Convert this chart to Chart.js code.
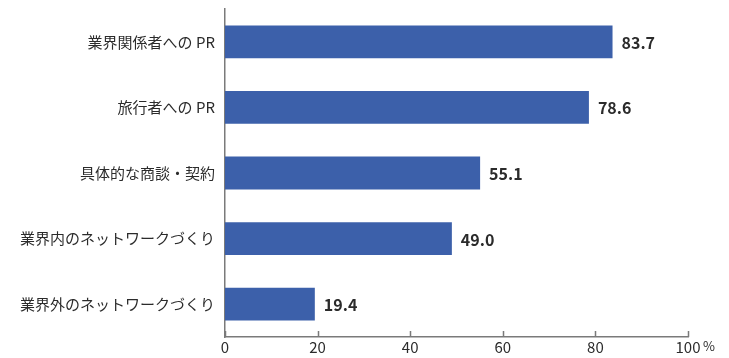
<!DOCTYPE html>
<html>
<head>
<meta charset="utf-8">
<script src="https://cdn.jsdelivr.net/npm/chart.js@4/dist/chart.umd.min.js"></script>
<style>
  html, body { margin: 0; padding: 0; background: #fff; }
  #wrap { width: 729px; height: 358px; }
</style>
</head>
<body>
<div id="wrap"><canvas id="chart-canvas" width="729" height="358"></canvas></div>
<script>
var categories = [
  '業界関係者への PR',
  '旅行者への PR',
  '具体的な商談・契約',
  '業界内のネットワークづくり',
  '業界外のネットワークづくり'
];
var values = [83.7, 78.6, 55.1, 49.0, 19.4];
var xTicks = [0, 20, 40, 60, 80, 100];

var barColor = '#3c60aa';
var textColor = '#2b2b2b';
var axisColor = '#7a7a7a';
var jpFont = '"Noto Sans CJK JP", "Noto Sans", sans-serif';

// Value labels at the end of each bar.
var valueLabels = {
  id: 'valueLabels',
  afterDatasetsDraw: function (chart) {
    var ctx = chart.ctx;
    var meta = chart.getDatasetMeta(0);
    ctx.save();
    ctx.font = 'bold 16px ' + jpFont;
    ctx.fillStyle = textColor;
    ctx.textBaseline = 'middle';
    ctx.textAlign = 'left';
    for (var i = 0; i < meta.data.length; i++) {
      var bar = meta.data[i];
      ctx.fillText(values[i].toFixed(1), bar.x + 9, bar.y + 1);
    }
    ctx.restore();
  }
};

// Short tick marks pointing up from the x axis, plus the unit after 100.
var xAxisMarks = {
  id: 'xAxisMarks',
  afterDraw: function (chart) {
    var ctx = chart.ctx;
    var x = chart.scales.x;
    var bottom = chart.chartArea.bottom;
    ctx.save();
    ctx.strokeStyle = axisColor;
    ctx.lineWidth = 1.5;
    ctx.beginPath();
    for (var i = 0; i < xTicks.length; i++) {
      var px = Math.round(x.getPixelForValue(xTicks[i])) + 0.5;
      ctx.moveTo(px, bottom - 6);
      ctx.lineTo(px, bottom);
    }
    ctx.stroke();
    ctx.font = '13px ' + jpFont;
    ctx.fillStyle = textColor;
    ctx.textBaseline = 'top';
    ctx.textAlign = 'left';
    ctx.fillText('%', x.getPixelForValue(100) + 15, bottom + 3);
    ctx.restore();
  }
};

new Chart(document.getElementById('chart-canvas'), {
  type: 'bar',
  data: {
    labels: categories,
    datasets: [{
      data: values,
      backgroundColor: barColor,
      borderWidth: 0,
      barPercentage: 0.5,
      categoryPercentage: 1.0
    }]
  },
  options: {
    indexAxis: 'y',
    responsive: false,
    animation: false,
    layout: { padding: { top: 9, right: 41, left: 0, bottom: 0 } },
    plugins: {
      legend: { display: false },
      tooltip: { enabled: false }
    },
    scales: {
      x: {
        min: 0,
        max: 100,
        afterBuildTicks: function (scale) {
          scale.ticks = xTicks.map(function (v) { return { value: v }; });
        },
        afterFit: function (scale) { scale.height = 21; },
        grid: { display: false, drawTicks: false },
        border: { display: true, color: axisColor, width: 1.5 },
        ticks: {
          padding: 1,
          color: textColor,
          font: { family: jpFont, size: 15 },
          maxRotation: 0
        }
      },
      y: {
        afterFit: function (scale) {
          scale.width = 225;
          scale.paddingTop = 0;
          scale.paddingBottom = 0;
        },
        grid: { display: false, drawTicks: false },
        border: { display: true, color: axisColor, width: 1.5 },
        ticks: {
          padding: 10,
          color: textColor,
          font: { family: jpFont, size: 15 }
        }
      }
    }
  },
  plugins: [valueLabels, xAxisMarks]
});
</script>
</body>
</html>
